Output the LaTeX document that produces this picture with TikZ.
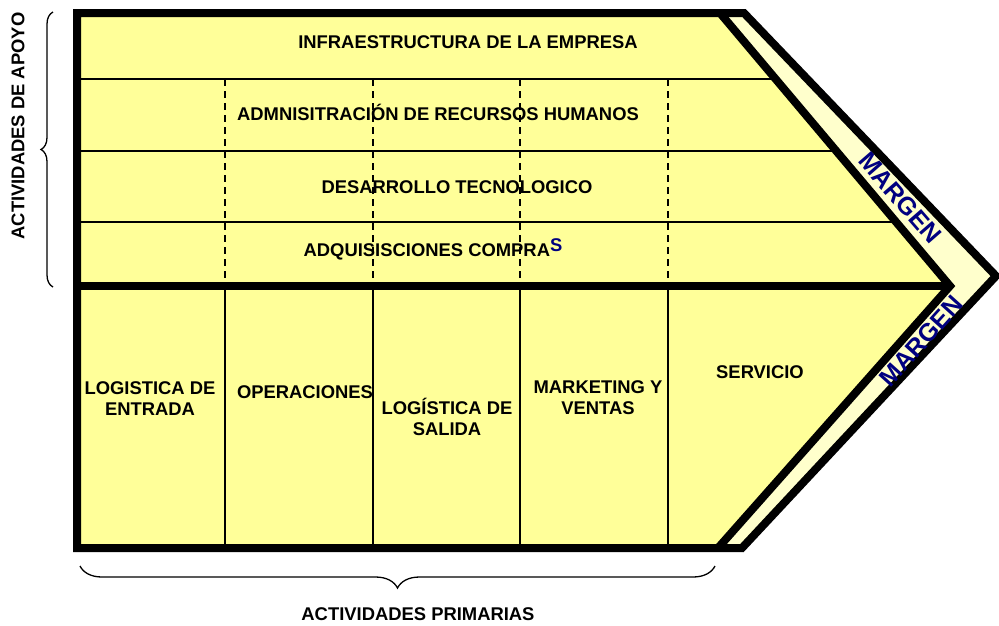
\documentclass[tikz,border=0pt]{standalone}
\usepackage{fontspec}
\setmainfont{Liberation Sans}
\usetikzlibrary{decorations.pathreplacing}
\definecolor{mainyellow}{RGB}{255,255,153}
\definecolor{bandyellow}{RGB}{255,255,204}
\definecolor{margenblue}{RGB}{0,0,128}
\begin{document}
\begin{tikzpicture}[x=1pt,y=-1pt,
  lbl/.style={font=\bfseries\fontsize{18.4}{21}\selectfont, align=center, inner sep=0pt},
  margen/.style={font=\bfseries\fontsize{25}{27}\selectfont, text=margenblue, inner sep=0pt},
  border/.style={line width=8pt, line join=miter},
  thinline/.style={line width=1.5pt},
  dashline/.style={line width=1.5pt, dash pattern=on 7pt off 5pt},
  bracelt/.style={line width=1.3pt, decorate, decoration={brace, amplitude=#1}}]
\useasboundingbox (0,0) rectangle (999,625);
% key points
\coordinate (TL) at (77,13);
\coordinate (BL) at (77,548);
\coordinate (IT) at (720,13);
\coordinate (IP) at (950,286);
\coordinate (IB) at (718,548);
\coordinate (OT) at (744,13);
\coordinate (OP) at (996,276);
\coordinate (OB) at (742,548);
\coordinate (SL) at (77,286);
% fills
\fill[bandyellow] (IT) -- (OT) -- (OP) -- (OB) -- (IB) -- (IP) -- cycle;
\fill[mainyellow] (TL) -- (IT) -- (IP) -- (IB) -- (BL) -- cycle;
% support rows
\coordinate (h1a) at (77,79);  \coordinate (h1b) at (776,79);
\coordinate (h2a) at (77,151); \coordinate (h2b) at (837,151);
\coordinate (h3a) at (77,222); \coordinate (h3b) at (897,222);
\draw[thinline] (h1a) -- (h1b);
\draw[thinline] (h2a) -- (h2b);
\draw[thinline] (h3a) -- (h3b);
% dashed and solid columns
\foreach \i/\cx in {1/225,2/373,3/520,4/668}{
  \coordinate (d\i a) at (\cx,79);
  \coordinate (d\i b) at (\cx,286);
  \coordinate (d\i c) at (\cx,548);
  \draw[dashline] (d\i a) -- (d\i b);
  \draw[thinline] (d\i b) -- (d\i c);
}
% thick lines
\draw[border] (SL) -- (IP);
\draw[border] (IT) -- (IP) -- (IB);
\draw[border] (TL) -- (OT) -- (OP) -- (OB) -- (BL) -- cycle;
% support labels
\node[lbl] (infra) at (468,42) {INFRAESTRUCTURA DE LA EMPRESA};
\node[lbl] (rrhh) at (438,112) {ADMNISITRACIÓN DE RECURSOS HUMANOS};
\node[lbl] (tec) at (457,187) {DESARROLLO TECNOLOGICO};
\node[lbl] (adq) at (433,249) {ADQUISISCIONES COMPRA\textcolor{margenblue}{\raisebox{5pt}{S}}};
% primary labels
\node[lbl] (log1) at (150,399) {LOGISTICA DE\\ENTRADA};
\node[lbl] (oper) at (305,392) {OPERACIONES};
\node[lbl] (log2) at (447,417) {LOGÍSTICA DE\\SALIDA};
\node[lbl] (mkt) at (598,398) {MARKETING Y\\VENTAS};
\node[lbl] (serv) at (760,372) {SERVICIO};
% margen
\node[margen, rotate=-49] (m1) at (900,198) {MARGEN};
\node[margen, rotate=48] (m2) at (921,341) {MARGEN};
% braces
\coordinate (lb1) at (53,287);
\coordinate (lb2) at (53,12);
\draw[bracelt=12pt] (lb1) -- (lb2);
\coordinate (bb1) at (715,566);
\coordinate (bb2) at (80,566);
\draw[bracelt=22pt] (bb1) -- (bb2);
\node[lbl, rotate=90] (apoyo) at (18,126) {ACTIVIDADES DE APOYO};
\node[lbl] (prim) at (418,614) {ACTIVIDADES PRIMARIAS};
\end{tikzpicture}
\end{document}
